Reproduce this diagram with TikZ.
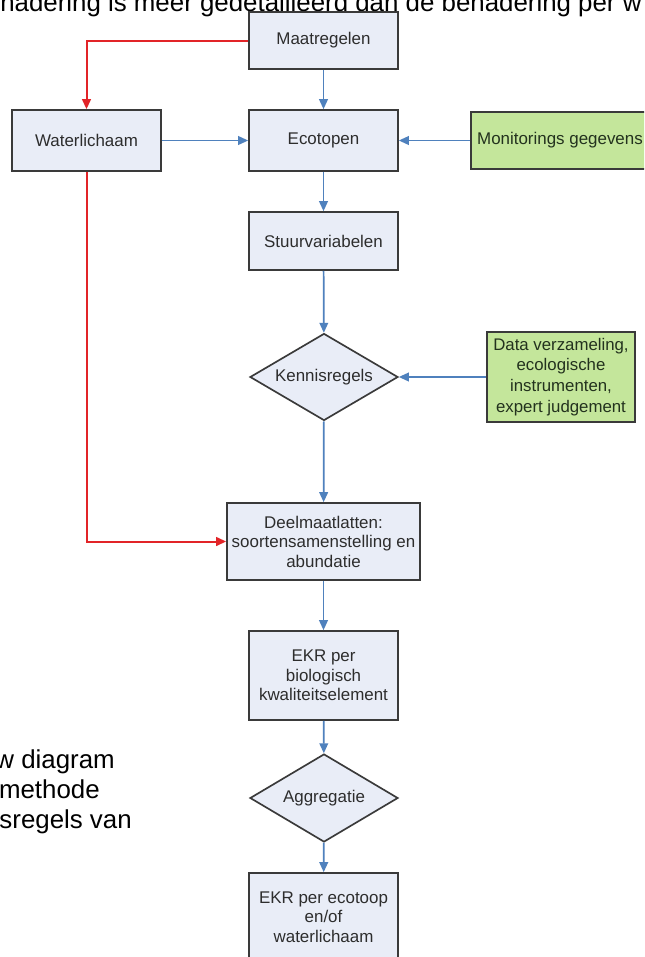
\documentclass[tikz,border=0pt]{standalone}
\usepackage{fontspec}
\setmainfont{Liberation Sans}
\usetikzlibrary{arrows.meta,shapes.geometric}
\definecolor{boxfill}{RGB}{233,237,247}
\definecolor{boxline}{RGB}{58,58,58}
\definecolor{greenfill}{RGB}{196,230,155}
\definecolor{blueline}{RGB}{79,129,189}
\definecolor{redline}{RGB}{226,36,40}
\definecolor{txt}{RGB}{45,45,45}
\definecolor{gtxt}{RGB}{35,50,30}
\tikzset{
  flowbox/.style={draw=boxline, line width=1.25pt, fill=boxfill, align=center, inner sep=0pt,
    text=txt, font=\fontsize{12.7}{14.6}\selectfont, minimum width=111.75pt},
  greenbox/.style={flowbox, fill=greenfill, text=gtxt},
  decision/.style={diamond, draw=boxline, line width=1.25pt, fill=boxfill, inner sep=0pt,
    text=txt, font=\fontsize{12.7}{14.6}\selectfont, aspect=1.7, minimum width=111pt, minimum height=65.25pt},
  bluearrow/.style={draw=blueline, line width=1.3pt, -{Triangle[length=7.5pt,width=6.5pt]}},
  redarrow/.style={draw=redline, line width=1.5pt, -{Triangle[length=7.5pt,width=6.5pt]}},
  bigtext/.style={font=\fontsize{19.4}{22.5}\selectfont, inner sep=0pt, text=black}
}
\begin{document}
\begin{tikzpicture}[x=0.75pt,y=-0.75pt]
\useasboundingbox (0,0) rectangle (644,957);
\clip (0,0) rectangle (644,957);
\fill[white] (0,0) rectangle (644,957);
\node[bigtext, anchor=base west] (top) at (0,11.5) {nadering is meer gedetailleerd dan de benadering per w};
\node[bigtext, anchor=base east] (l1) at (115,768) {w diagram};
\node[bigtext, anchor=base east] (l2) at (100,798) {methode};
\node[bigtext, anchor=base east] (l3) at (132,828) {sregels van};

\node[flowbox, minimum height=42.75pt] (maat) at (323.5,40.5) {Maatregelen};
\node[flowbox, minimum height=45.75pt] (wl) at (86.5,140.5) {Waterlichaam};
\node[flowbox, minimum height=45.75pt] (eco) at (323.5,140.5) {Ecotopen};
\node[greenbox, minimum width=142.5pt, minimum height=42.75pt] (mon) at (566,140.5) {Monitorings gegevens\hspace*{9pt}};
\node[flowbox, minimum height=43.5pt] (stuur) at (323.5,241) {Stuurvariabelen};
\node[decision] (kennis) at (324,377) {Kennisregels};
\node[greenbox, minimum width=111pt, minimum height=67.5pt, font=\fontsize{12.6}{15.6}\selectfont] (data) at (561,377) {Data verzameling,\\ecologische\\instrumenten,\\expert judgement};
\node[flowbox, minimum width=144.75pt, minimum height=57.75pt] (deel) at (323.5,541.5) {Deelmaatlatten:\\soortensamenstelling en\\abundatie};
\node[flowbox, minimum height=66.75pt] (ekrbio) at (323.5,675.5) {EKR per\\biologisch\\kwaliteitselement};
\node[decision, minimum height=66pt, aspect=1.68] (aggr) at (324,798) {Aggregatie};
\node[flowbox, minimum height=66pt] (ekreco) at (323.5,917) {EKR per ecotoop\\en/of\\waterlichaam};

\draw[bluearrow] (maat) -- (eco);
\draw[redarrow] (maat.west) -| (wl.north);
\draw[bluearrow] (wl) -- (eco);
\draw[bluearrow] (mon) -- (eco);
\draw[bluearrow] (eco) -- (stuur);
\draw[bluearrow] (stuur) -- (kennis);
\draw[bluearrow] (data) -- (kennis);
\draw[bluearrow] (kennis) -- (deel);
\draw[redarrow] (wl.south) |- (deel.west);
\draw[bluearrow] (deel) -- (ekrbio);
\draw[bluearrow] (ekrbio) -- (aggr);
\draw[bluearrow] (aggr) -- (ekreco);
\end{tikzpicture}
\end{document}
